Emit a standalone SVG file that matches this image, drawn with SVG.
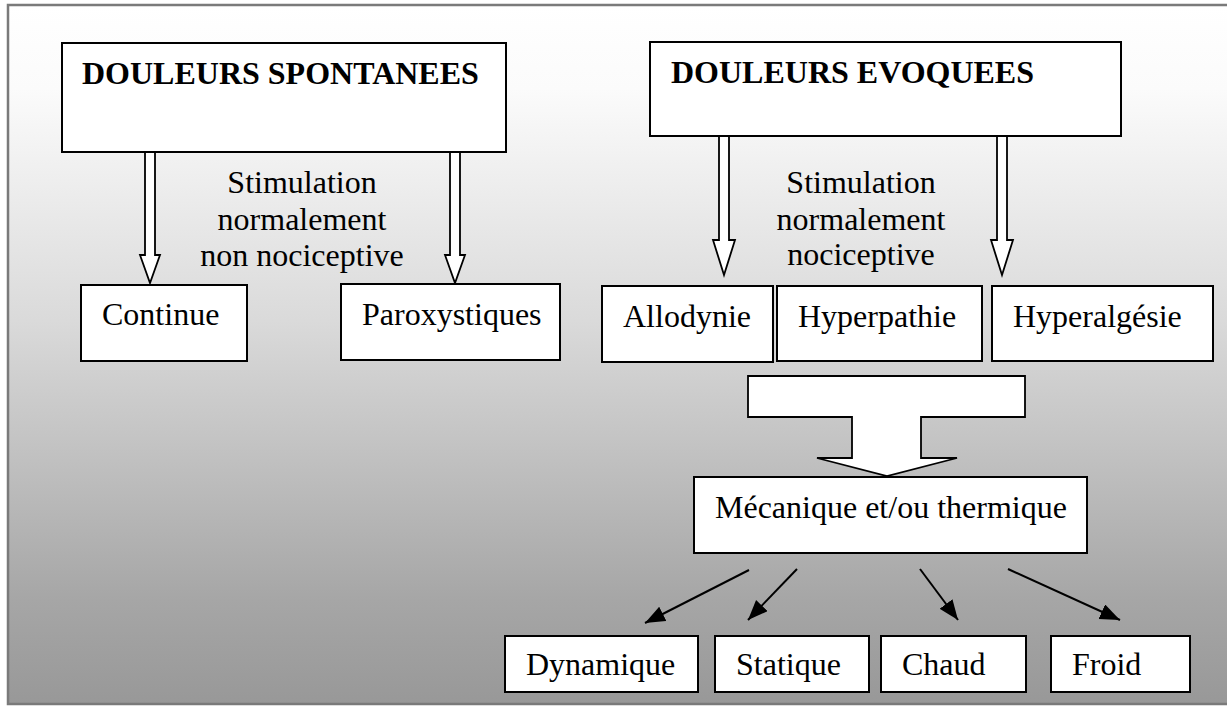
<svg xmlns="http://www.w3.org/2000/svg" width="1227" height="706" viewBox="0 0 1227 706">
  <defs>
    <linearGradient id="bg" gradientUnits="userSpaceOnUse" x1="0" y1="5" x2="0" y2="705">
      <stop offset="0" stop-color="#ffffff"/>
      <stop offset="0.12" stop-color="#fbfbfb"/>
      <stop offset="0.45" stop-color="#dadada"/>
      <stop offset="0.85" stop-color="#a6a6a6"/>
      <stop offset="1" stop-color="#989898"/>
    </linearGradient>
    <marker id="ah" markerUnits="userSpaceOnUse" markerWidth="22" markerHeight="18" refX="20" refY="8" orient="auto">
      <path d="M0,0 L20,8 L0,16 Z" fill="#000"/>
    </marker>
    <style>
      .box { fill: #ffffff; stroke: #000000; stroke-width: 2; }
      .hollow { fill: #ffffff; stroke: #000000; stroke-width: 1.8; stroke-linejoin: miter; }
      .t { font-family: "Liberation Serif", "Times New Roman", serif; font-size: 32px; fill: #000; }
      .tb { font-family: "Liberation Serif", "Times New Roman", serif; font-size: 32px; font-weight: bold; fill: #000; }
      .c { text-anchor: middle; }
      .conn { stroke: #000; stroke-width: 2; fill: none; marker-end: url(#ah); }
    </style>
  </defs>

  <rect x="8" y="5" width="1230" height="699" fill="url(#bg)" stroke="#7a7a7a" stroke-width="2.5"/>

  <g id="connectors">
    <polygon class="hollow" points="145,152 155,152 155,255 160,255 150,283 140,255 145,255"/>
    <polygon class="hollow" points="450,152 460,152 460,255 465,255 455,283 445,255 450,255"/>
    <polygon class="hollow" points="719,136 729,136 729,240 735,240 724,275 713,240 719,240"/>
    <polygon class="hollow" points="997,136 1007,136 1007,240 1013,240 1002,275 991,240 997,240"/>
    <polygon class="hollow" points="748,376 1025,376 1025,417 921,417 921,458 957,458 887,476 817,458 852,458 852,417 748,417"/>
    <line class="conn" x1="749" y1="570" x2="645" y2="623"/>
    <line class="conn" x1="797" y1="569" x2="748" y2="620"/>
    <line class="conn" x1="920" y1="569" x2="958" y2="620"/>
    <line class="conn" x1="1008" y1="569" x2="1120" y2="620"/>
  </g>

  <g id="label-non-nociceptive">
    <text class="t c" x="302" y="193">Stimulation</text>
    <text class="t c" x="302" y="230">normalement</text>
    <text class="t c" x="302" y="266">non nociceptive</text>
  </g>
  <g id="label-nociceptive">
    <text class="t c" x="861" y="193">Stimulation</text>
    <text class="t c" x="861" y="230">normalement</text>
    <text class="t c" x="861" y="265">nociceptive</text>
  </g>

  <g id="douleurs-spontanees">
    <rect class="box" x="62" y="43" width="444" height="109"/>
    <text class="tb" x="82" y="84">DOULEURS SPONTANEES</text>
  </g>
  <g id="douleurs-evoquees">
    <rect class="box" x="650" y="42" width="471" height="94"/>
    <text class="tb" x="671" y="83">DOULEURS EVOQUEES</text>
  </g>
  <g id="continue">
    <rect class="box" x="81" y="285" width="166" height="76"/>
    <text class="t" x="102" y="325">Continue</text>
  </g>
  <g id="paroxystiques">
    <rect class="box" x="341" y="284" width="219" height="76"/>
    <text class="t" x="362" y="325">Paroxystiques</text>
  </g>
  <g id="allodynie">
    <rect class="box" x="602" y="286" width="171" height="76"/>
    <text class="t" x="623" y="327">Allodynie</text>
  </g>
  <g id="hyperpathie">
    <rect class="box" x="777" y="286" width="205" height="75"/>
    <text class="t" x="798" y="327">Hyperpathie</text>
  </g>
  <g id="hyperalgesie">
    <rect class="box" x="992" y="286" width="221" height="75"/>
    <text class="t" x="1013" y="327">Hyperalgésie</text>
  </g>
  <g id="mecanique">
    <rect class="box" x="694" y="477" width="393" height="76"/>
    <text class="t" x="715" y="518">Mécanique et/ou thermique</text>
  </g>
  <g id="dynamique">
    <rect class="box" x="505" y="636" width="193" height="56"/>
    <text class="t" x="526" y="675">Dynamique</text>
  </g>
  <g id="statique">
    <rect class="box" x="715" y="636" width="154" height="56"/>
    <text class="t" x="736" y="675">Statique</text>
  </g>
  <g id="chaud">
    <rect class="box" x="881" y="636" width="145" height="56"/>
    <text class="t" x="902" y="675">Chaud</text>
  </g>
  <g id="froid">
    <rect class="box" x="1051" y="636" width="139" height="56"/>
    <text class="t" x="1072" y="675">Froid</text>
  </g>
</svg>
